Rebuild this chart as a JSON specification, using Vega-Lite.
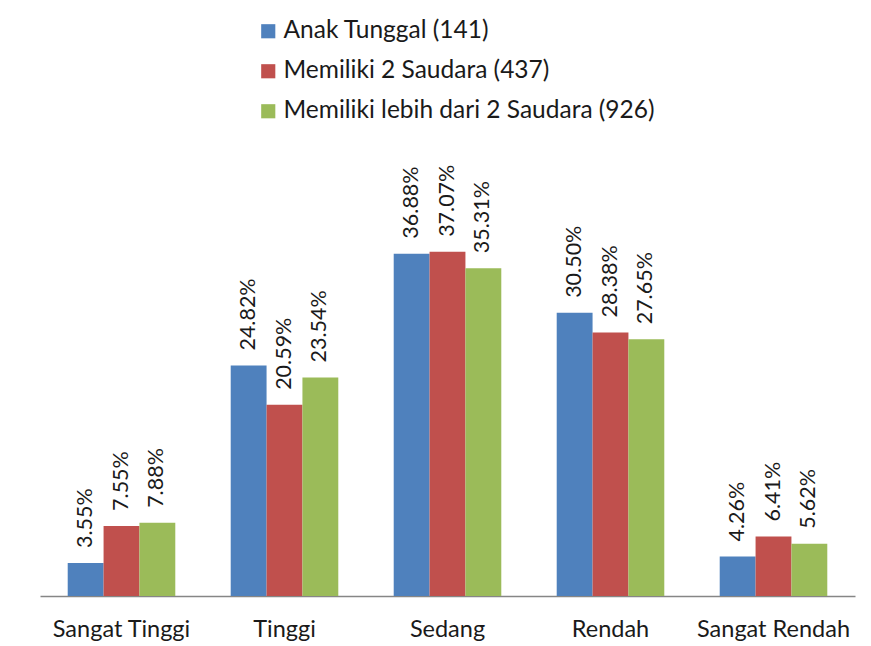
{
  "$schema": "https://vega.github.io/schema/vega-lite/v6.json",
  "autosize": "none",
  "width": 815,
  "height": 557,
  "padding": {"left": 40, "top": 39, "right": 16, "bottom": 50},
  "background": "white",
  "data": {
    "values": [
      {"kategori": "Sangat Tinggi", "grup": "Anak Tunggal (141)", "nilai": 0.0355},
      {"kategori": "Sangat Tinggi", "grup": "Memiliki 2 Saudara (437)", "nilai": 0.0755},
      {"kategori": "Sangat Tinggi", "grup": "Memiliki lebih dari 2 Saudara (926)", "nilai": 0.0788},
      {"kategori": "Tinggi", "grup": "Anak Tunggal (141)", "nilai": 0.2482},
      {"kategori": "Tinggi", "grup": "Memiliki 2 Saudara (437)", "nilai": 0.2059},
      {"kategori": "Tinggi", "grup": "Memiliki lebih dari 2 Saudara (926)", "nilai": 0.2354},
      {"kategori": "Sedang", "grup": "Anak Tunggal (141)", "nilai": 0.3688},
      {"kategori": "Sedang", "grup": "Memiliki 2 Saudara (437)", "nilai": 0.3707},
      {"kategori": "Sedang", "grup": "Memiliki lebih dari 2 Saudara (926)", "nilai": 0.3531},
      {"kategori": "Rendah", "grup": "Anak Tunggal (141)", "nilai": 0.3050},
      {"kategori": "Rendah", "grup": "Memiliki 2 Saudara (437)", "nilai": 0.2838},
      {"kategori": "Rendah", "grup": "Memiliki lebih dari 2 Saudara (926)", "nilai": 0.2765},
      {"kategori": "Sangat Rendah", "grup": "Anak Tunggal (141)", "nilai": 0.0426},
      {"kategori": "Sangat Rendah", "grup": "Memiliki 2 Saudara (437)", "nilai": 0.0641},
      {"kategori": "Sangat Rendah", "grup": "Memiliki lebih dari 2 Saudara (926)", "nilai": 0.0562}
    ]
  },
  "encoding": {
    "x": {
      "field": "kategori", "type": "nominal",
      "sort": ["Sangat Tinggi", "Tinggi", "Sedang", "Rendah", "Sangat Rendah"],
      "scale": {"paddingInner": 0.34, "paddingOuter": 0.17},
      "axis": {
        "title": null, "labelAngle": 0, "ticks": false, "domainColor": "#868686", "domainWidth": 1.5,
        "labelFont": "Lato", "labelFontSize": 23.5, "labelColor": "#1a1a1a", "labelPadding": 21, "grid": false
      }
    },
    "xOffset": {
      "field": "grup", "type": "nominal",
      "sort": ["Anak Tunggal (141)", "Memiliki 2 Saudara (437)", "Memiliki lebih dari 2 Saudara (926)"]
    },
    "y": {
      "field": "nilai", "type": "quantitative",
      "scale": {"domain": [0, 0.6]},
      "axis": null
    }
  },
  "layer": [
    {
      "mark": {"type": "bar"},
      "encoding": {
        "color": {
          "field": "grup", "type": "nominal",
          "sort": ["Anak Tunggal (141)", "Memiliki 2 Saudara (437)", "Memiliki lebih dari 2 Saudara (926)"],
          "scale": {"range": ["#4F81BD", "#C0504D", "#9BBB59"]},
          "legend": {
            "title": null, "orient": "none", "legendX": 216, "legendY": -20,
            "symbolType": "square", "symbolSize": 200, "symbolStrokeWidth": 0,
            "labelFont": "Lato", "labelFontSize": 24.5, "labelColor": "#1a1a1a",
            "rowPadding": 15, "labelOffset": 3, "labelLimit": 600
          }
        }
      }
    },
    {
      "mark": {"type": "text", "angle": -90, "align": "left", "baseline": "middle", "dx": 15, "font": "Lato", "fontSize": 21.5, "color": "#1a1a1a"},
      "encoding": {
        "text": {"field": "nilai", "type": "quantitative", "format": ".2%"}
      }
    }
  ],
  "config": {"view": {"stroke": null}}
}
